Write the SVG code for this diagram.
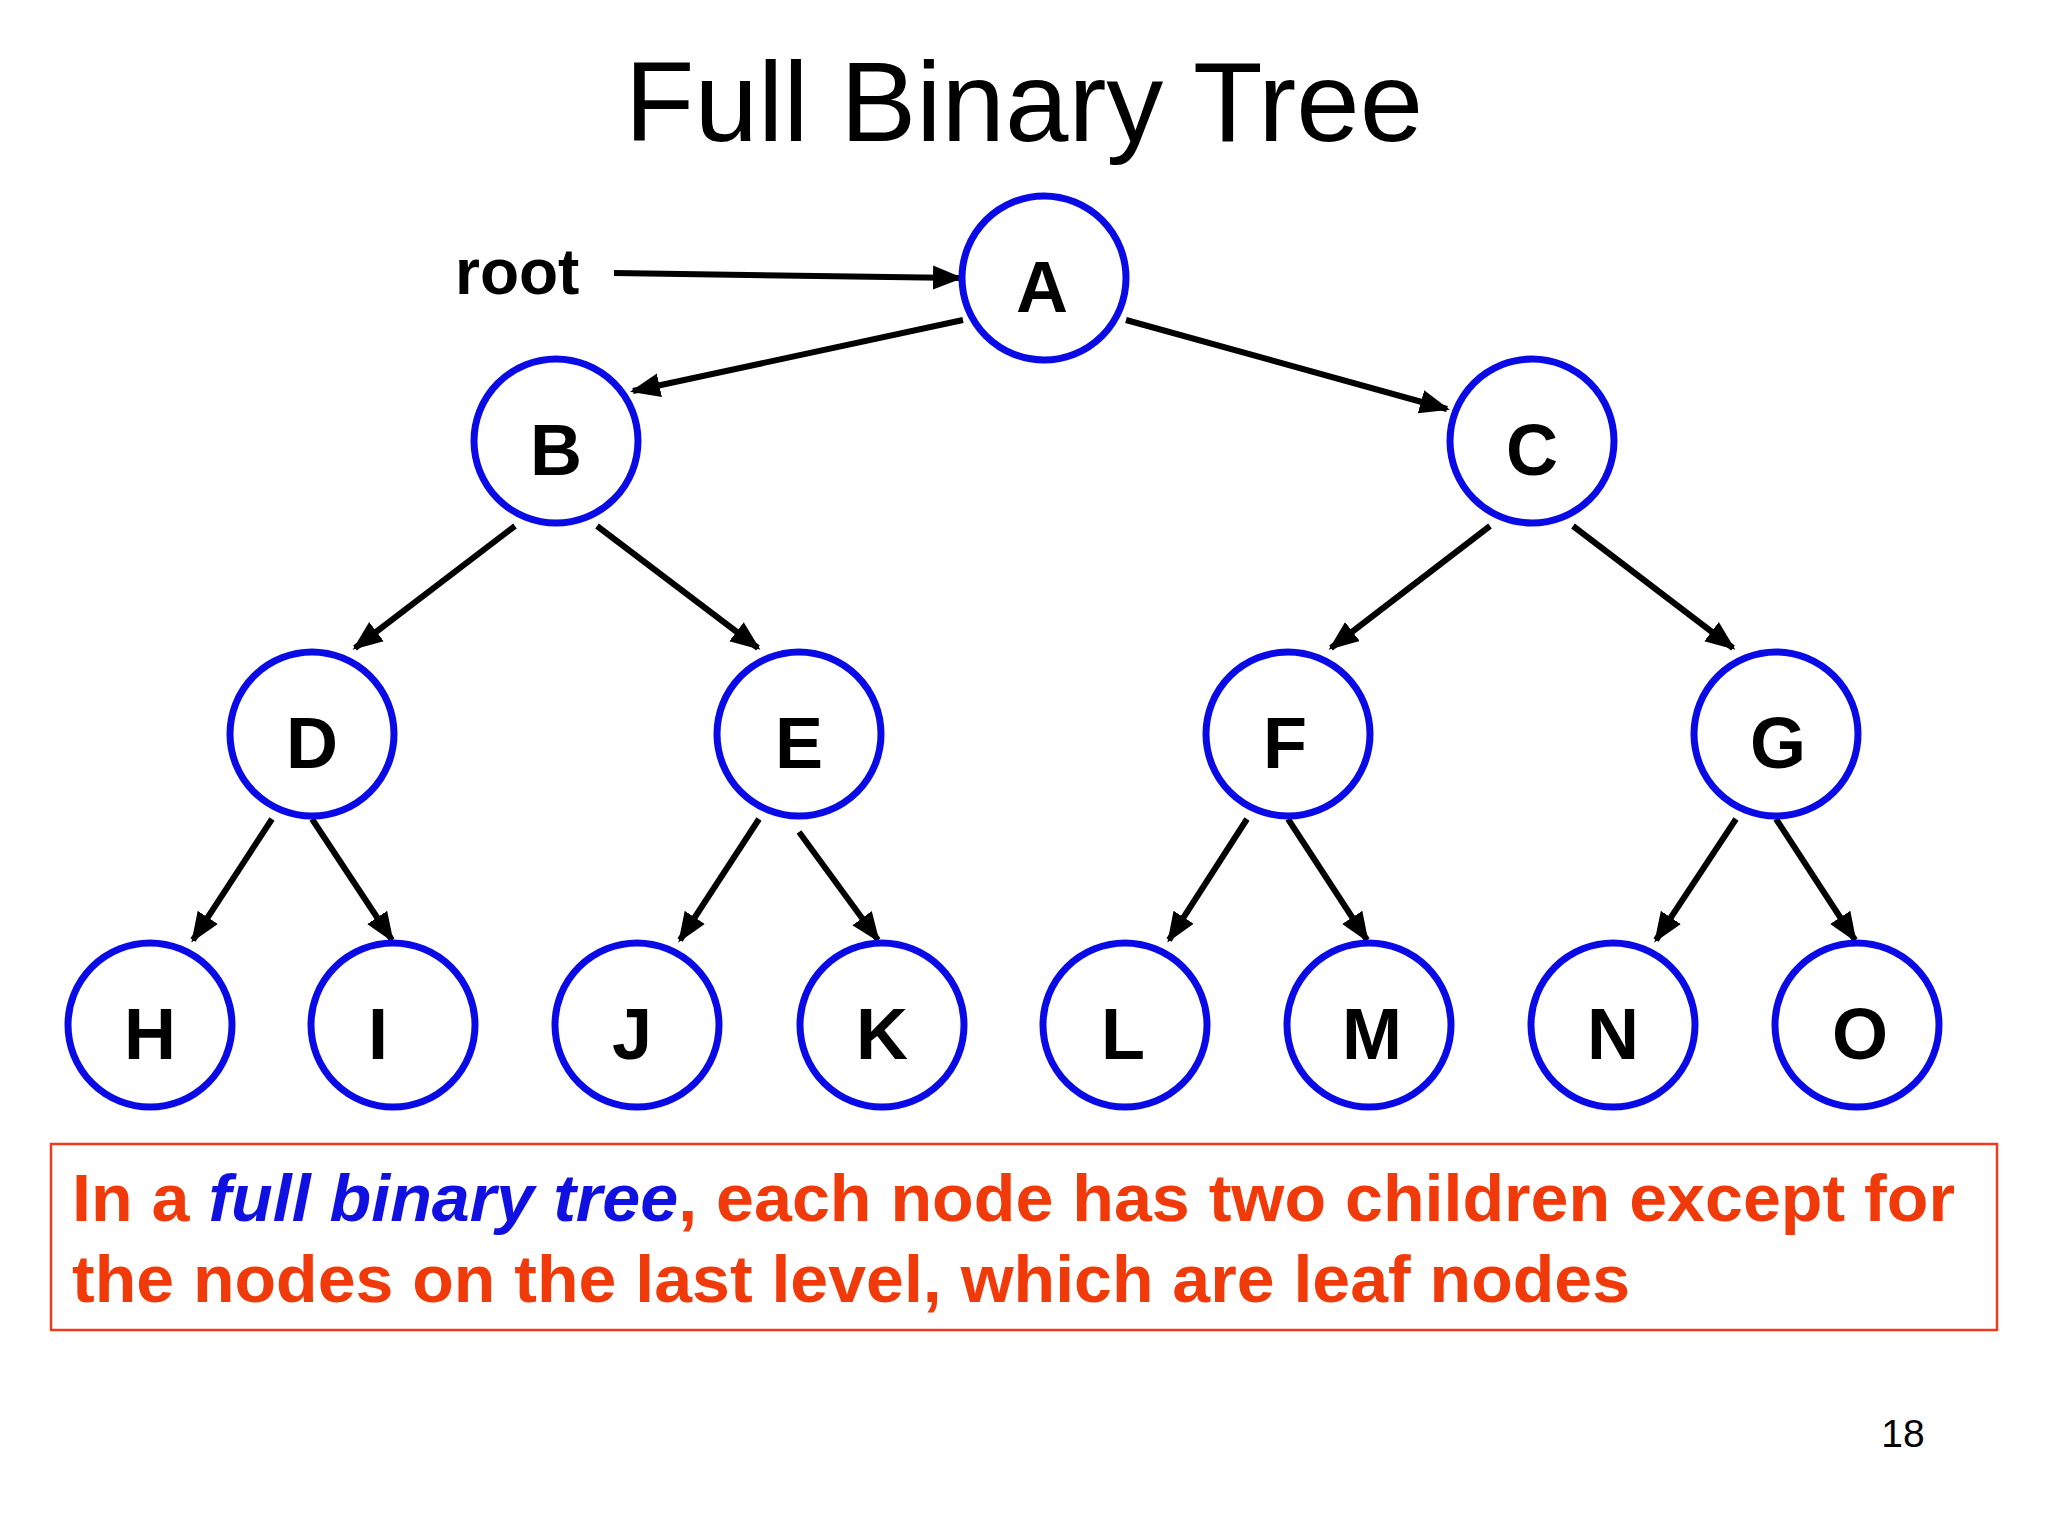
<svg xmlns="http://www.w3.org/2000/svg" width="2048" height="1536" viewBox="0 0 2048 1536">
<defs>
<marker id="ah" viewBox="0 0 10 10" refX="9" refY="5" markerWidth="5" markerHeight="5" orient="auto" markerUnits="strokeWidth"><path d="M0,1 L10,5 L0,9 Z" fill="#000"/></marker>
</defs>
<style>
.n circle{fill:#fff;stroke:#0a0ae6;stroke-width:7}
.n text{font-family:"Liberation Sans",Arial,sans-serif;font-weight:bold;font-size:72px;text-anchor:middle;fill:#000}
#edges line{stroke:#000;stroke-width:6;marker-end:url(#ah)}
</style>
<rect width="2048" height="1536" fill="#fff"/>
<text x="1024" y="141" font-family="Liberation Sans,Arial,sans-serif" font-size="114" text-anchor="middle">Full Binary Tree</text>
<text x="455" y="294" font-family="Liberation Sans,Arial,sans-serif" font-size="64" font-weight="bold">root</text>
<g id="edges">
<line x1="614" y1="273" x2="960" y2="278"/>
<line x1="963" y1="320" x2="633" y2="391"/>
<line x1="1126" y1="320" x2="1447" y2="409"/>
<line x1="515" y1="526" x2="355" y2="648"/>
<line x1="597" y1="526" x2="758" y2="648"/>
<line x1="1490" y1="526" x2="1331" y2="648"/>
<line x1="1573" y1="526" x2="1733" y2="648"/>
<line x1="272" y1="819" x2="193" y2="940"/>
<line x1="312" y1="819" x2="392" y2="940"/>
<line x1="759" y1="819" x2="680" y2="940"/>
<line x1="799" y1="832" x2="878" y2="940"/>
<line x1="1247" y1="819" x2="1169" y2="940"/>
<line x1="1288" y1="819" x2="1367" y2="940"/>
<line x1="1736" y1="819" x2="1656" y2="940"/>
<line x1="1776" y1="819" x2="1855" y2="940"/>
</g>
<g id="A" class="n"><circle cx="1044" cy="278" r="82"/><text x="1042" y="312">A</text></g>
<g id="B" class="n"><circle cx="556" cy="441" r="82"/><text x="556" y="475">B</text></g>
<g id="C" class="n"><circle cx="1532" cy="441" r="82"/><text x="1532" y="475">C</text></g>
<g id="D" class="n"><circle cx="312" cy="734" r="82"/><text x="312" y="768">D</text></g>
<g id="E" class="n"><circle cx="799" cy="734" r="82"/><text x="799" y="768">E</text></g>
<g id="F" class="n"><circle cx="1288" cy="734" r="82"/><text x="1285" y="768">F</text></g>
<g id="G" class="n"><circle cx="1776" cy="734" r="82"/><text x="1778" y="768">G</text></g>
<g id="H" class="n"><circle cx="150" cy="1025" r="82"/><text x="150" y="1059">H</text></g>
<g id="I" class="n"><circle cx="393" cy="1025" r="82"/><text x="378" y="1059">I</text></g>
<g id="J" class="n"><circle cx="637" cy="1025" r="82"/><text x="632" y="1059">J</text></g>
<g id="K" class="n"><circle cx="882" cy="1025" r="82"/><text x="882" y="1059">K</text></g>
<g id="L" class="n"><circle cx="1125" cy="1025" r="82"/><text x="1123" y="1059">L</text></g>
<g id="M" class="n"><circle cx="1369" cy="1025" r="82"/><text x="1372" y="1059">M</text></g>
<g id="N" class="n"><circle cx="1613" cy="1025" r="82"/><text x="1613" y="1059">N</text></g>
<g id="O" class="n"><circle cx="1857" cy="1025" r="82"/><text x="1860" y="1059">O</text></g>
<rect x="51" y="1144" width="1946" height="186" fill="none" stroke="#f03a1a" stroke-width="2.5"/>
<g font-family="Liberation Sans,Arial,sans-serif" font-size="66" font-weight="bold" fill="#f03a0a">
<text x="72" y="1221" textLength="1883" lengthAdjust="spacingAndGlyphs">In a <tspan fill="#1010e0" font-style="italic">full binary tree</tspan>, each node has two children except for</text>
<text x="72" y="1302" textLength="1558" lengthAdjust="spacingAndGlyphs">the nodes on the last level, which are leaf nodes</text>
</g>
<text x="1903" y="1447" font-family="Liberation Sans,Arial,sans-serif" font-size="39" text-anchor="middle">18</text>
</svg>
